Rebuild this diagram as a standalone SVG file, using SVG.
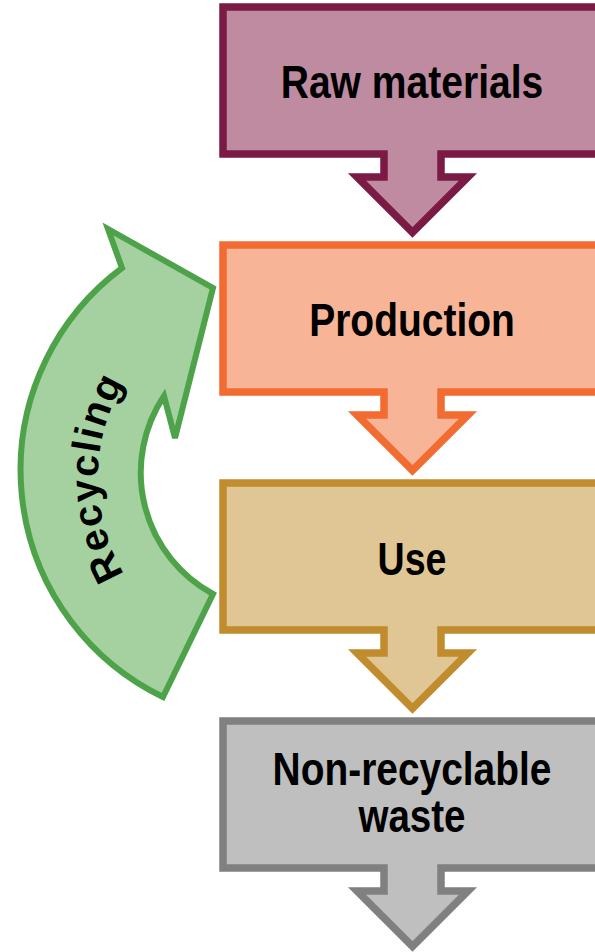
<svg xmlns="http://www.w3.org/2000/svg" width="595" height="952" viewBox="0 0 595 952">
<style>
.box{stroke-width:7.5;stroke-linejoin:miter}
.lbl{font-family:"Liberation Sans",Arial,sans-serif;font-weight:bold;font-size:46px;fill:#000;text-anchor:middle}
.rec{font-family:"Liberation Sans",Arial,sans-serif;font-weight:bold;font-size:40px;fill:#000;letter-spacing:1.5px}
</style>
<defs>
<path id="stepShape" d="M223,0 L605,0 L605,147 L441,147 L441,170 L468,170 L412.5,225.5 L357,170 L384,170 L384,147 L223,147 Z"/>
<path id="recPath" d="M132,586 A188 188 0 0 1 132,370"/>
</defs>
<rect width="595" height="952" fill="#fff"/>
<g id="raw-materials">
<use href="#stepShape" class="box" transform="translate(0,7)" fill="#bf8ba0" stroke="#7b1a44"/>
<text class="lbl" transform="translate(412,98) scale(0.85,1)" x="0" y="0" textLength="309" lengthAdjust="spacingAndGlyphs">Raw materials</text>
</g>
<g id="production">
<use href="#stepShape" class="box" transform="translate(0,245)" fill="#f8b496" stroke="#f26b30"/>
<text class="lbl" transform="translate(412,336) scale(0.85,1)" x="0" y="0" textLength="242" lengthAdjust="spacingAndGlyphs">Production</text>
</g>
<g id="use">
<use href="#stepShape" class="box" transform="translate(0,483)" fill="#dfc694" stroke="#c08c2d"/>
<text class="lbl" transform="translate(412,575) scale(0.85,1)" x="0" y="0" textLength="81" lengthAdjust="spacingAndGlyphs">Use</text>
</g>
<g id="non-recyclable-waste">
<use href="#stepShape" class="box" transform="translate(0,721)" fill="#bfbfbf" stroke="#808080"/>
<text class="lbl" transform="translate(412,785) scale(0.85,1)" x="0" y="0" textLength="328" lengthAdjust="spacingAndGlyphs">Non-recyclable</text>
<text class="lbl" transform="translate(412,832) scale(0.85,1)" x="0" y="0" textLength="126" lengthAdjust="spacingAndGlyphs">waste</text>
</g>
<g id="connectors">
<g id="recycling">
<path d="M163,697 L213,594 A138 138 0 0 1 164,396 L175,438 L213,288 L108,229 L122,268 A252 252 0 0 0 163,697 Z" fill="#a5d1a0" stroke="#4ea34a" stroke-width="6" stroke-linejoin="miter"/>
<text class="rec"><textPath href="#recPath" startOffset="50%" text-anchor="middle">Recycling</textPath></text>
</g>
</g>
</svg>
